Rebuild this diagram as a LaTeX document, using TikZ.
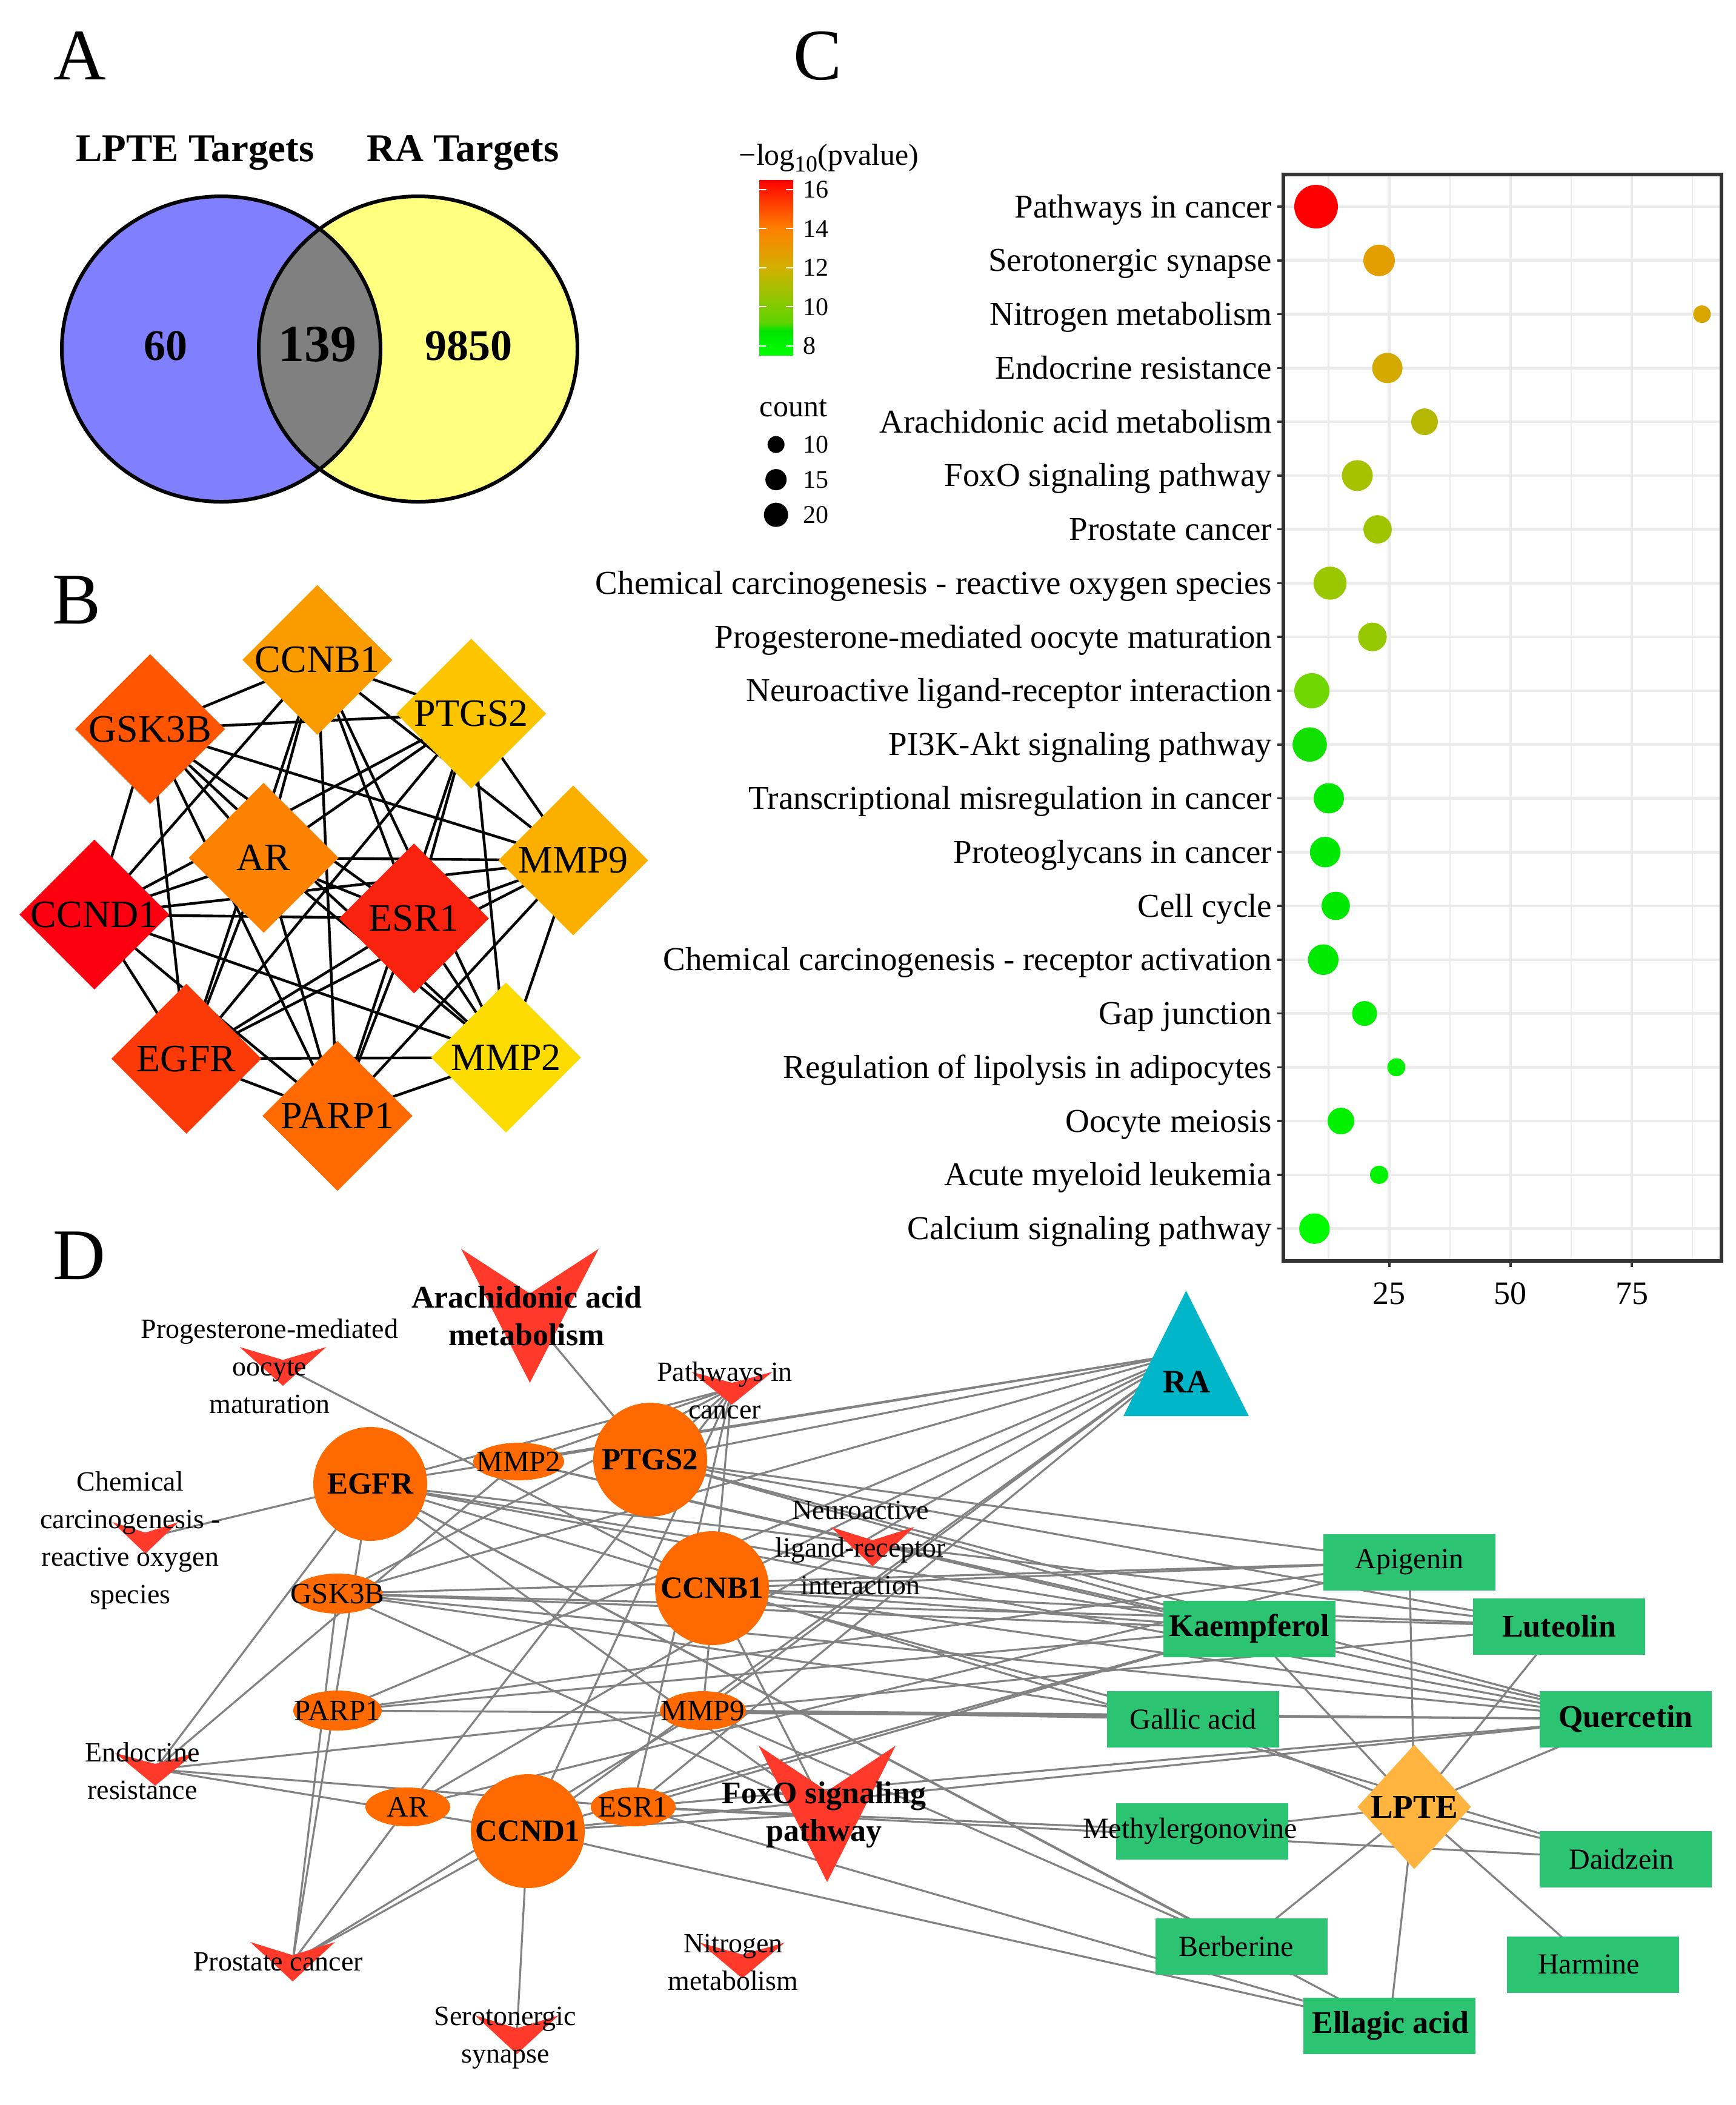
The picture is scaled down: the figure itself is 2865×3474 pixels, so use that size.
\documentclass[tikz,border=0pt]{standalone}
\usepackage{fontspec}
\setmainfont{Liberation Serif}
\usetikzlibrary{shapes.geometric}
\pgfdeclarelayer{bg}
\pgfdeclarelayer{paper}
\pgfsetlayers{paper,bg,main}
\newcommand\fpx[1]{\fontsize{\dimexpr #1pt/4\relax}{\dimexpr #1pt*3/10\relax}\selectfont}
\newcommand\fpxb[2]{\fontsize{\dimexpr #1pt/4\relax}{\dimexpr #2pt/4\relax}\selectfont}
\newcommand\vshape[4]{\fill[vred] ({#1-(#4)/2},#2) -- (#1,{#2+(#3-#2)/3}) -- ({#1+(#4)/2},#2) -- (#1,#3) -- cycle;}
\definecolor{vred}{RGB}{255,58,42}
\definecolor{gorange}{RGB}{255,106,0}
\definecolor{cgreen}{RGB}{44,195,115}
\definecolor{lpteor}{RGB}{255,180,64}
\definecolor{rateal}{RGB}{0,182,200}
\definecolor{edgegray}{RGB}{130,130,130}
\definecolor{gridgray}{RGB}{235,235,235}
\definecolor{framegray}{RGB}{51,51,51}
\definecolor{vennblue}{RGB}{128,128,255}
\definecolor{vennyellow}{RGB}{255,255,128}
\definecolor{venngray}{RGB}{128,128,128}
\definecolor{bc1}{HTML}{FA9B00}
\definecolor{bc2}{HTML}{FF5500}
\definecolor{bc3}{HTML}{FDC400}
\definecolor{bc4}{HTML}{FC8200}
\definecolor{bc5}{HTML}{FBB000}
\definecolor{bc6}{HTML}{FC0012}
\definecolor{bc7}{HTML}{F9220E}
\definecolor{bc8}{HTML}{FB3A08}
\definecolor{bc9}{HTML}{FCDC00}
\definecolor{bc10}{HTML}{FF6A00}
\definecolor{c1}{HTML}{FF0000}
\definecolor{c2}{HTML}{E39E00}
\definecolor{c3}{HTML}{D9A600}
\definecolor{c4}{HTML}{D4A900}
\definecolor{c5}{HTML}{B4B800}
\definecolor{c6}{HTML}{A6C100}
\definecolor{c7}{HTML}{9FC400}
\definecolor{c8}{HTML}{99C700}
\definecolor{c9}{HTML}{96C800}
\definecolor{c10}{HTML}{70D800}
\definecolor{c11}{HTML}{12E000}
\definecolor{c12}{HTML}{00E600}
\definecolor{c13}{HTML}{00E800}
\definecolor{c14}{HTML}{00E800}
\definecolor{c15}{HTML}{00EA00}
\definecolor{c16}{HTML}{00EE00}
\definecolor{c17}{HTML}{00F000}
\definecolor{c18}{HTML}{00F000}
\definecolor{c19}{HTML}{00F400}
\definecolor{c20}{HTML}{00FA00}
\definecolor{cb1}{HTML}{FF0000}
\definecolor{cb2}{HTML}{FF8000}
\definecolor{cb3}{HTML}{D2B000}
\definecolor{cb4}{HTML}{7FCC00}
\definecolor{cb5}{HTML}{5ED400}
\definecolor{cb6}{HTML}{00E400}
\definecolor{cb7}{HTML}{00FF00}
\begin{document}
\begin{tikzpicture}[x=0.25pt,y=-0.25pt,
  bdia/.style={diamond,minimum width=62pt,minimum height=62pt,inner sep=0pt},
  blab/.style={font=\fpx{64},inner sep=0pt},
  bedge/.style={line width=1.1pt,black},
  dedge/.style={line width=0.8pt,edgegray},
  dgene/.style={ellipse,fill=gorange,inner sep=0pt},
  gbold/.style={font=\bfseries\fpx{51},inner sep=0pt},
  gnorm/.style={font=\fpx{49},inner sep=0pt},
  cbox/.style={rectangle,fill=cgreen,minimum width=71pt,minimum height=23.25pt,inner sep=0pt},
  cnorm/.style={font=\fpx{48},inner sep=0pt},
  cbold/.style={font=\bfseries\fpx{52},inner sep=0pt},
  plab/.style={font=\fpxb{46}{62},align=center,inner sep=0pt},
  plabb/.style={font=\bfseries\fpxb{52}{62},align=center,inner sep=0pt},
  panel/.style={font=\fpx{120},inner sep=0pt},
  clab/.style={font=\fpx{55},inner sep=0pt,anchor=base east},
  legt/.style={font=\fpx{42},inner sep=0pt,anchor=west},
  gridmaj/.style={gridgray,line width=1.15pt},
  gridmin/.style={gridgray,line width=0.6pt},
]
\useasboundingbox (0,0) rectangle (2865,3474);
\begin{pgfonlayer}{paper}
\fill[white] (0,0) rectangle (2865,3474);
\end{pgfonlayer}

% ---------------- panel labels
\node[panel] (labA) at (132,92) {A};
\node[panel] (labB) at (127,990) {B};
\node[panel] (labC) at (1350,92) {C};
\node[panel] (labD) at (131,2072) {D};

% ---------------- Panel A : Venn
\fill[vennblue] (365,576) ellipse [x radius=263,y radius=252];
\fill[vennyellow] (690,576) ellipse [x radius=263,y radius=252];
\begin{scope}
  \clip (365,576) ellipse [x radius=263,y radius=252];
  \fill[venngray] (690,576) ellipse [x radius=263,y radius=252];
\end{scope}
\draw[line width=1.5pt] (365,576) ellipse [x radius=263,y radius=252];
\draw[line width=1.5pt] (690,576) ellipse [x radius=263,y radius=252];
\node[font=\bfseries\fpx{65},anchor=base,inner sep=0pt] (tLPTEt) at (322,266) {LPTE Targets};
\node[font=\bfseries\fpx{65},anchor=base,inner sep=0pt] (tRAt) at (764,266) {RA Targets};
\node[font=\bfseries\fpx{72},inner sep=0pt] (n60) at (274,571) {60};
\node[font=\bfseries\fpx{86},inner sep=0pt] (n139) at (524,568) {139};
\node[font=\bfseries\fpx{72},inner sep=0pt] (n9850) at (773,571) {9850};

% ---------------- Panel B : PPI
\foreach \n/\x/\y/\cc in {CCNB1/523.8/1089/bc1, GSK3B/247.7/1203.2/bc2, PTGS2/777.7/1177.7/bc3, AR/435.2/1415.6/bc4, MMP9/946/1420/bc5, CCND1/155.8/1509.3/bc6, ESR1/683.3/1515.7/bc7, EGFR/307.6/1747.2/bc8, MMP2/835/1745.3/bc9, PARP1/557/1841.6/bc10}
{
  \node[bdia,fill=\cc] (b\n) at (\x,\y) {};
  \node[blab] (bt\n) at (\x,\y) {\n};
}
\begin{pgfonlayer}{bg}
\foreach \a [count=\i] in {CCNB1,GSK3B,PTGS2,AR,MMP9,CCND1,ESR1,EGFR,MMP2,PARP1}
  \foreach \b [count=\j] in {CCNB1,GSK3B,PTGS2,AR,MMP9,CCND1,ESR1,EGFR,MMP2,PARP1}
    {\ifnum\i<\j\relax \draw[bedge] (b\a.center) -- (b\b.center);\fi}
\end{pgfonlayer}

% ---------------- Panel C : legend
\node[font=\fpx{50},anchor=base west,inner sep=0pt] (legtitle) at (1219,272) {−log\raisebox{-0.22em}{\fpx{38}10}(pvalue)};
\shade[top color=cb1,bottom color=cb2] (1253,297) rectangle (1308.5,377);
\shade[top color=cb2,bottom color=cb3] (1253,376.5) rectangle (1308.5,442);
\shade[top color=cb3,bottom color=cb4] (1253,441.5) rectangle (1308.5,507);
\shade[top color=cb4,bottom color=cb5] (1253,506.5) rectangle (1308.5,533);
\shade[top color=cb5,bottom color=cb6] (1253,532.5) rectangle (1308.5,546);
\shade[top color=cb6,bottom color=cb7] (1253,545.5) rectangle (1308.5,586);
\foreach \v in {16,14,12,10,8}{
  \pgfmathsetmacro\ty{312.6+(16-\v)*32.27}
  \draw[white,line width=0.5pt] (1253,\ty) -- (1265,\ty) (1296.5,\ty) -- (1308.5,\ty);
  \node[legt] (cbt\v) at (1325,\ty) {\v};
}
\node[font=\fpx{50},anchor=base west,inner sep=0pt] (legcount) at (1253,687) {count};
\fill (1280.7,733.6) circle [radius=14];
\fill (1280.7,791.6) circle [radius=17.5];
\fill (1280.7,849.6) circle [radius=20];
\node[legt] (lc10) at (1325,733.6) {10};
\node[legt] (lc15) at (1325,791.6) {15};
\node[legt] (lc20) at (1325,849.6) {20};

% ---------------- Panel C : dot plot
\foreach \i in {0,...,19}
  \draw[gridmaj] (2117.6,{341+\i*88.77}) -- (2841,{341+\i*88.77});
\foreach \gx in {2192.6,2392.8,2593.0,2793.2}
  \draw[gridmin] (\gx,288) -- (\gx,2080.6);
\foreach \gx in {2292.7,2492.9,2693.1}
  \draw[gridmaj] (\gx,288) -- (\gx,2080.6);
\foreach \dx/\r [count=\i] in {2172/36, 2276/26, 2808.8/14.5, 2289.6/25, 2351/22, 2240/25.5, 2273.5/23.4, 2195/27.3, 2265/23.6, 2165/29, 2161.5/28.3, 2193/25, 2187/25.2, 2204.4/23.4, 2183.8/25.2, 2252/20.5, 2304.4/14.8, 2213/22, 2276/15, 2169.3/25.2}
{
  \pgfmathsetmacro\yy{341+(\i-1)*88.77}
  \fill[c\i] (\dx,\yy) circle [radius=\r];
}
\draw[framegray,line width=1.5pt] (2117.6,288) rectangle (2841,2080.6);
\foreach \lab [count=\i] in {Pathways in cancer, Serotonergic synapse, Nitrogen metabolism, Endocrine resistance, Arachidonic acid metabolism, FoxO signaling pathway, Prostate cancer, Chemical carcinogenesis - reactive oxygen species, Progesterone-mediated oocyte maturation, Neuroactive ligand-receptor interaction, PI3K-Akt signaling pathway, Transcriptional misregulation in cancer, Proteoglycans in cancer, Cell cycle, Chemical carcinogenesis - receptor activation, Gap junction, Regulation of lipolysis in adipocytes, Oocyte meiosis, Acute myeloid leukemia, Calcium signaling pathway}
{
  \pgfmathsetmacro\yy{341+(\i-1)*88.77}
  \draw[framegray,line width=0.9pt] (2108,\yy) -- (2117.6,\yy);
  \node[clab] (cl\i) at (2100,\yy+18) {\lab};
}
\foreach \gx/\t in {2292.7/25,2492.9/50,2693.1/75}{
  \draw[framegray,line width=0.9pt] (\gx,2080.6) -- (\gx,2091);
  \node[font=\fpx{54},inner sep=0pt] (xt\t) at (\gx,2135) {\t};
}

% ---------------- Panel D : network
\vshape{874.5}{2061}{2282}{227}
\vshape{467}{2223}{2287}{143}
\vshape{1208}{2264}{2318}{134}
\vshape{240}{2512}{2564}{109}
\vshape{256}{2893}{2947}{132}
\vshape{483}{3205}{3270}{140}
\vshape{853}{3326}{3390}{138}
\vshape{1225}{3206}{3265}{140}
\vshape{1440}{2520}{2585}{138}
\vshape{1365}{2881}{3106}{226}
\coordinate (vArach) at (874.5,2171.5);
\coordinate (vProg) at (467,2255);
\coordinate (vPathC) at (1208,2291);
\coordinate (vChem) at (240,2538);
\coordinate (vEndo) at (256,2920);
\coordinate (vProst) at (483,3237.5);
\coordinate (vSerot) at (853,3358);
\coordinate (vNitro) at (1225,3235.5);
\coordinate (vNeuro) at (1440,2552.5);
\coordinate (vFoxO) at (1365,2993.5);

\foreach \n/\x/\y/\w/\h in {EGFR/611/2449/47pt/47pt, MMP2/856/2412/37.5pt/15.5pt, PTGS2/1073/2409/47pt/47pt, CCNB1/1175/2621/47pt/47pt, GSK3B/557/2630/37pt/16.5pt, PARP1/557/2823/36.5pt/16.5pt, MMP9/1160/2823/35.5pt/16pt, AR/673/2982/35pt/16pt, CCND1/871/3022/47pt/47pt, ESR1/1045/2982/35pt/16pt}
  \node[dgene,minimum width=\w,minimum height=\h] (d\n) at (\x,\y) {};

\foreach \n/\x/\y in {Apigenin/2326/2578, Kaempferol/2062/2688, Luteolin/2573/2684, Gallic/1969/2837, Quercetin/2683/2837, Methyl/1984/3022, Daidzein/2683/3068, Berberine/2049/3212, Harmine/2629/3242, Ellagic/2293/3343}
  \node[cbox] (c\n) at (\x,\y) {};

\node[diamond,fill=lpteor,minimum width=47pt,minimum height=51.5pt,inner sep=0pt] (LPTE) at (2334,2982) {};
\fill[rateal] (1957.5,2130) -- (2061,2337) -- (1854,2337) -- cycle;
\coordinate (RA) at (1957.5,2233.5);

\begin{pgfonlayer}{bg}
\foreach \a/\b in {RA/dPTGS2, RA/dEGFR, RA/dMMP2, RA/dCCNB1, RA/dGSK3B, RA/dMMP9, RA/dCCND1, RA/dESR1, RA/dAR, RA/dPARP1,
  LPTE/cApigenin, LPTE/cKaempferol, LPTE/cLuteolin, LPTE/cGallic, LPTE/cQuercetin, LPTE/cMethyl, LPTE/cDaidzein, LPTE/cBerberine, LPTE/cHarmine, LPTE/cEllagic,
  vArach/dPTGS2, vProg/dCCNB1, vChem/dEGFR,
  vEndo/dEGFR, vEndo/dMMP2, vEndo/dMMP9, vEndo/dESR1, vEndo/dCCND1,
  vProst/dGSK3B, vProst/dEGFR, vProst/dAR, vProst/dCCND1, vProst/dMMP9,
  vSerot/dCCND1,
  vFoxO/dEGFR, vFoxO/dCCNB1, vFoxO/dCCND1, vFoxO/dGSK3B,
  vPathC/dPTGS2, vPathC/dEGFR, vPathC/dMMP2, vPathC/dGSK3B, vPathC/dMMP9, vPathC/dESR1, vPathC/dCCND1, vPathC/dAR,
  cQuercetin/dPTGS2, cQuercetin/dEGFR, cQuercetin/dMMP2, cQuercetin/dGSK3B, cQuercetin/dCCNB1, cQuercetin/dMMP9, cQuercetin/dCCND1, cQuercetin/dESR1, cQuercetin/dPARP1,
  cKaempferol/dPTGS2, cKaempferol/dEGFR, cKaempferol/dGSK3B, cKaempferol/dCCNB1, cKaempferol/dCCND1, cKaempferol/dESR1, cKaempferol/dPARP1, cKaempferol/dMMP2,
  cLuteolin/dPTGS2, cLuteolin/dGSK3B, cLuteolin/dCCNB1, cLuteolin/dMMP9, cLuteolin/dEGFR,
  cApigenin/dPTGS2, cApigenin/dGSK3B, cApigenin/dPARP1, cApigenin/dAR, cApigenin/dCCNB1,
  cGallic/dMMP9, cGallic/dGSK3B, cGallic/dCCNB1,
  cMethyl/dESR1, cDaidzein/dESR1, cDaidzein/dEGFR, cBerberine/dEGFR, cBerberine/dMMP9,
  cEllagic/dCCND1, cEllagic/dESR1, cEllagic/dEGFR}
  \draw[dedge] (\a.center) -- (\b.center);
\end{pgfonlayer}

\node[plabb] (tArach) at (869,2171.5) {Arachidonic acid\\metabolism};
\node[plab] (tProg) at (445,2255) {Progesterone-mediated\\oocyte\\maturation};
\node[plab] (tPathC) at (1196,2295) {Pathways in\\cancer};
\node[plab] (tChem) at (215,2542) {Chemical\\carcinogenesis -\\reactive oxygen\\species};
\node[plab] (tEndo) at (235,2923) {Endocrine\\resistance};
\node[plab] (tProst) at (459,3238) {Prostate cancer};
\node[plab] (tSerot) at (834,3363) {Serotonergic\\synapse};
\node[plab] (tNitro) at (1210,3238) {Nitrogen\\metabolism};
\node[plab] (tNeuro) at (1420,2554) {Neuroactive\\ligand-receptor\\interaction};
\node[plabb] (tFoxO) at (1360,2995) {FoxO signaling\\pathway};

\foreach \n in {EGFR,PTGS2,CCNB1,CCND1}
  \node[gbold] (td\n) at (d\n) {\n};
\foreach \n in {MMP2,GSK3B,PARP1,MMP9,AR,ESR1}
  \node[gnorm] (td\n) at (d\n) {\n};

\node[cnorm] (tApigenin) at (2326,2578) {Apigenin};
\node[cbold] (tKaempferol) at (2062,2688) {Kaempferol};
\node[cbold] (tLuteolin) at (2573,2684) {Luteolin};
\node[cnorm] (tGallic) at (1969,2837) {Gallic acid};
\node[cbold] (tQuercetin) at (2683,2837) {Quercetin};
\node[cnorm] (tMethyl) at (1964,3022) {Methylergonovine};
\node[cnorm] (tDaidzein) at (2676,3068) {Daidzein};
\node[cnorm] (tBerberine) at (2040,3212) {Berberine};
\node[cnorm] (tHarmine) at (2622,3242) {Harmine};
\node[cbold] (tEllagic) at (2295,3343) {Ellagic acid};
\node[font=\bfseries\fpx{55},inner sep=0pt] (tLPTE) at (2334,2982) {LPTE};
\node[font=\bfseries\fpx{54},inner sep=0pt] (tRA) at (1958,2281) {RA};
\end{tikzpicture}
\end{document}
